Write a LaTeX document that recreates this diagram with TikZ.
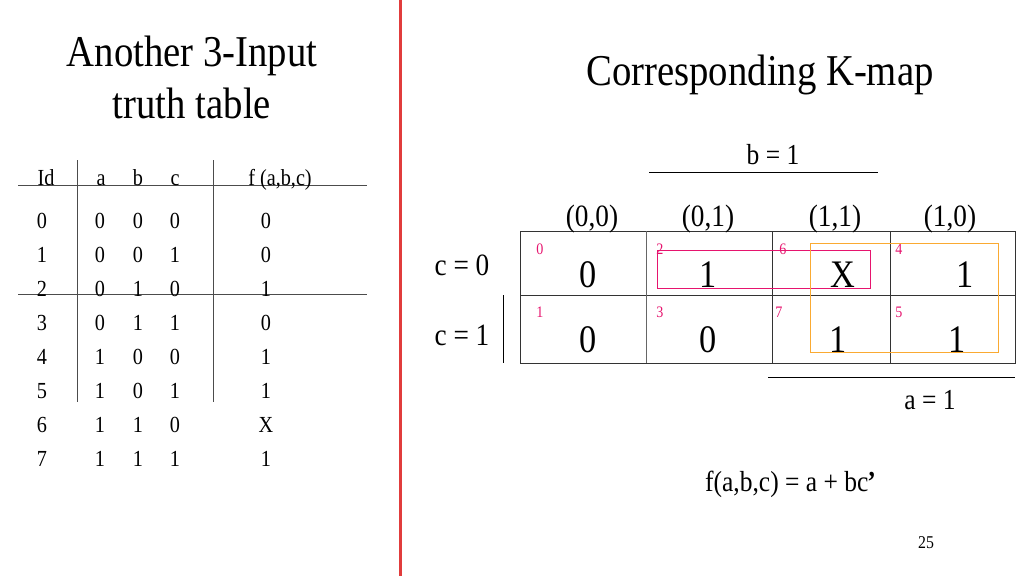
\documentclass[tikz,border=0pt]{standalone}
\usepackage{fontspec}
\setmainfont{Liberation Serif}[FakeStretch=0.88]
\usetikzlibrary{positioning}
\definecolor{pinkred}{RGB}{230,20,110}
\definecolor{kmorange}{RGB}{250,170,50}
\definecolor{divred}{RGB}{225,60,60}
\tikzset{
  tabtxt/.style={font=\fontsize{23}{23}\selectfont, inner sep=0pt},
  cellval/.style={font=\fontsize{39}{39}\selectfont, inner sep=0pt},
  cellnum/.style={font=\fontsize{16}{16}\selectfont, text=pinkred, inner sep=0pt},
  lbl/.style={font=\fontsize{31}{31}\selectfont, inner sep=0pt},
}
\begin{document}
\begin{tikzpicture}[x=1pt, y=-1pt]
    \useasboundingbox (0,0) rectangle (1024,576);

    % separation
    \draw[draw=divred, line width=3pt] (400,0) -- (400,576);

    % titre
    \node[font=\fontsize{44}{52}\selectfont, align=center] (title) at (192,77) {Another 3-Input\\truth table};
    \node[font=\fontsize{44}{44}\selectfont] (ktitle) at (760,75) {Corresponding K-map};

    % table de verite
    \draw[draw=black!70] (18,185) -- (367,185);
    \draw[draw=black!70] (18,294) -- (367,294);
    \draw[draw=black!70] (77,160) -- (77,402);
    \draw[draw=black!70] (213,160) -- (213,402);

    \node[tabtxt, anchor=base] (hid) at (46,185) {Id};
    \node[tabtxt, anchor=base] (ha) at (101,185) {a};
    \node[tabtxt, anchor=base] (hb) at (138,185) {b};
    \node[tabtxt, anchor=base] (hc) at (175,185) {c};
    \node[tabtxt, anchor=base] (hf) at (280,185) {f (a,b,c)};

    \foreach \i/\a/\b/\c/\f [count=\n from 0] in {0/0/0/0/0, 1/0/0/1/0, 2/0/1/0/1, 3/0/1/1/0,
        4/1/0/0/1, 5/1/0/1/1, 6/1/1/0/X, 7/1/1/1/1} {
      \node[tabtxt] (id\n) at (42,221+34*\n) {\i};
      \node[tabtxt] (a\n) at (100,221+34*\n) {\a};
      \node[tabtxt] (b\n) at (138,221+34*\n) {\b};
      \node[tabtxt] (c\n) at (175,221+34*\n) {\c};
      \node[tabtxt] (f\n) at (266,221+34*\n) {\f};
    }

    % k-map
    \node[tabtxt, font=\fontsize{29}{29}\selectfont] (bone) at (773,155) {b = 1};
    \draw (649,172) -- (878,172);

    \draw[draw=black!80] (520,231) rectangle (1015,363);
    \draw[draw=black!80] (520,295) -- (1015,295);
    \draw[draw=black!60] (646,231) -- (646,363);
    \draw[draw=black!80] (772,231) -- (772,363);
    \draw[draw=black!80] (890,231) -- (890,363);

    \node[lbl] (col0) at (592,219) {(0,0)};
    \node[lbl] (col1) at (708,219) {(0,1)};
    \node[lbl] (col2) at (835,219) {(1,1)};
    \node[lbl] (col3) at (950,219) {(1,0)};
    \node[lbl] (czero) at (462,265) {c = 0};
    \node[lbl] (cone) at (462,335) {c = 1};
    \draw (503,295) -- (503,363);

    \node[cellval] (v0) at (588,275) {0};
    \node[cellval] (v2) at (708,275) {1};
    \node[cellval] (v6) at (843,275) {X};
    \node[cellval] (v4) at (965,275) {1};
    \node[cellval] (v1) at (588,340) {0};
    \node[cellval] (v3) at (708,340) {0};
    \node[cellval] (v7) at (838,340) {1};
    \node[cellval] (v5) at (957,340) {1};

    \node[cellnum] (n0) at (540,249) {0};
    \node[cellnum] (n2) at (660,249) {2};
    \node[cellnum] (n6) at (783,249) {6};
    \node[cellnum] (n4) at (899,249) {4};
    \node[cellnum] (n1) at (540,312) {1};
    \node[cellnum] (n3) at (660,312) {3};
    \node[cellnum] (n7) at (779,312) {7};
    \node[cellnum] (n5) at (899,312) {5};

    % regroupements
    \draw[draw=pinkred, line width=0.9pt] (657,250) rectangle (870,288);
    \draw[draw=kmorange, line width=0.9pt] (810,243) rectangle (998,352);

    \draw (768,377) -- (1015,377);
    \node[tabtxt, font=\fontsize{29}{29}\selectfont] (aone) at (930,400) {a = 1};

    \node[tabtxt, font=\fontsize{29}{29}\selectfont] (expr) at (790,484) {f(a,b,c) = a + bc\raisebox{15pt}{\textbf{,}}};
    \node[tabtxt, font=\fontsize{18}{18}\selectfont] (page) at (926,543) {25};
\end{tikzpicture}
\end{document}
